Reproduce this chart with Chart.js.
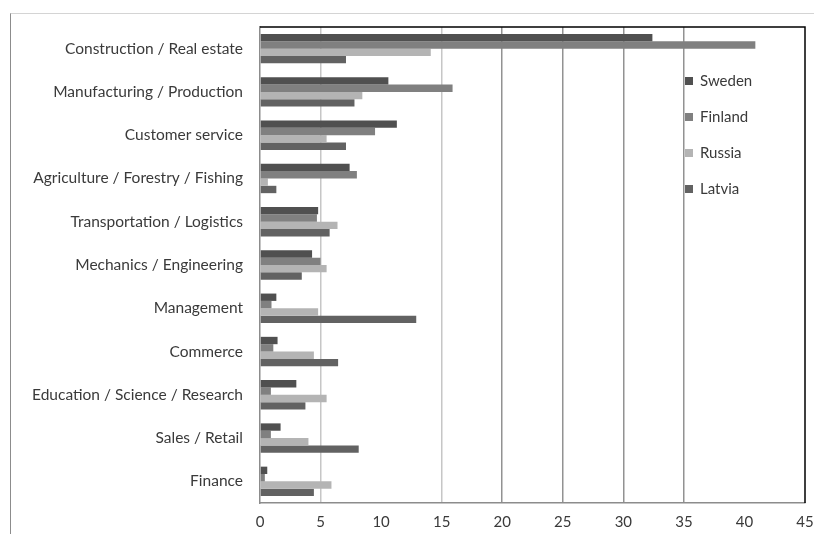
<!DOCTYPE html>
<html>
<head>
<meta charset="utf-8">
<script src="https://cdn.jsdelivr.net/npm/chart.js@4.4.1/dist/chart.umd.min.js"></script>
<style>
    html, body { margin: 0; padding: 0; background: #fff; }
    #wrap { position: relative; width: 814px; height: 534px; }
    #frame {
        position: absolute; left: 10px; top: 13px; right: 0; bottom: 0;
        border-top: 1px solid #d4d4d4; border-left: 1px solid #8c8c8c;
    }
    #chart { position: absolute; left: 0; top: 0; }
</style>
</head>
<body>
<div id="wrap">
    <div id="frame"></div>
    <canvas id="chart" width="814" height="534"></canvas>
</div>
<script>
/* ── Data ──────────────────────────────────────────────────── */
const categories = [
    'Construction / Real estate',
    'Manufacturing / Production',
    'Customer service',
    'Agriculture / Forestry / Fishing',
    'Transportation / Logistics',
    'Mechanics / Engineering',
    'Management',
    'Commerce',
    'Education / Science / Research',
    'Sales / Retail',
    'Finance',
];
const seriesNames = ['Sweden', 'Finland', 'Russia', 'Latvia'];
const sweden  = [32.4, 10.6, 11.3, 7.4, 4.8, 4.3, 1.35, 1.45, 3.0, 1.7, 0.6];
const finland = [40.9, 15.9, 9.5, 8.0, 4.7, 5.0, 0.95, 1.1, 0.9, 0.9, 0.4];
const russia  = [14.1, 8.45, 5.5, 0.65, 6.4, 5.5, 4.8, 4.45, 5.5, 4.0, 5.9];
const latvia  = [7.1, 7.8, 7.1, 1.35, 5.75, 3.45, 12.9, 6.45, 3.75, 8.15, 4.45];
const xTicks  = [0, 5, 10, 15, 20, 25, 30, 35, 40, 45];

/* ── Style tokens ──────────────────────────────────────────── */
const COLORS = ['#505050', '#808080', '#b4b4b4', '#626262'];
const FONT = 'Lato, "Open Sans", sans-serif';
const TEXT = '#3a3a3a';

/* Plot box: black top/right edges like the original */
const plotBorder = {
    id: 'plotBorder',
    afterDatasetsDraw(chart) {
        const { ctx, chartArea: a } = chart;
        ctx.save();
        ctx.strokeStyle = '#000';
        ctx.lineWidth = 1.5;
        ctx.beginPath();
        ctx.moveTo(a.left, a.top);
        ctx.lineTo(a.right, a.top);
        ctx.lineTo(a.right, a.bottom);
        ctx.stroke();
        ctx.restore();
    },
};

/* Legend sitting inside the plot, right side */
const innerLegend = {
    id: 'innerLegend',
    afterDraw(chart) {
        const { ctx } = chart;
        ctx.save();
        ctx.font = '15px ' + FONT;
        ctx.textBaseline = 'middle';
        chart.data.datasets.forEach((ds, i) => {
            const y = 81 + i * 36;
            ctx.fillStyle = ds.backgroundColor;
            ctx.fillRect(685, y - 4, 8, 8);
            ctx.fillStyle = TEXT;
            ctx.fillText(ds.label, 700, y);
        });
        ctx.restore();
    },
};

const seriesData = [sweden, finland, russia, latvia];

new Chart(document.getElementById('chart'), {
    type: 'bar',
    data: {
        labels: categories,
        datasets: seriesNames.map((name, i) => ({
            label: name,
            data: seriesData[i],
            backgroundColor: COLORS[i],
            borderWidth: 0,
            barPercentage: 1.0,
            categoryPercentage: 0.68,
        })),
    },
    options: {
        indexAxis: 'y',
        responsive: false,
        animation: false,
        devicePixelRatio: 1,
        layout: { padding: { top: 27, right: 1, left: 0, bottom: 0 } },
        plugins: {
            legend: { display: false },
            tooltip: { enabled: false },
        },
        scales: {
            x: {
                min: 0,
                max: 45,
                afterBuildTicks: s => { s.ticks = xTicks.map(v => ({ value: v })); },
                afterFit: s => { s.height = 31; s.paddingRight = 9; },
                ticks: {
                    color: TEXT,
                    font: { size: 15, family: FONT },
                    padding: 10,
                },
                grid: {
                    drawTicks: false,
                    lineWidth: 1.5,
                    color: c => {
                        const v = c.tick && c.tick.value;
                        if (v === 0 || v === 10 || v === 40 || v === 45) return 'rgba(0,0,0,0)';
                        if (v === 5 || v === 15) return '#c6c6c6';
                        return '#929292';
                    },
                },
                border: { color: '#8c8c8c', width: 1.5 },
            },
            y: {
                afterFit: s => { s.width = 260; },
                ticks: {
                    color: TEXT,
                    font: { size: 15.5, family: FONT },
                    padding: 17,
                },
                grid: { display: false, drawTicks: false },
                border: { color: '#8c8c8c', width: 1.5 },
            },
        },
    },
    plugins: [plotBorder, innerLegend],
});
</script>
</body>
</html>
